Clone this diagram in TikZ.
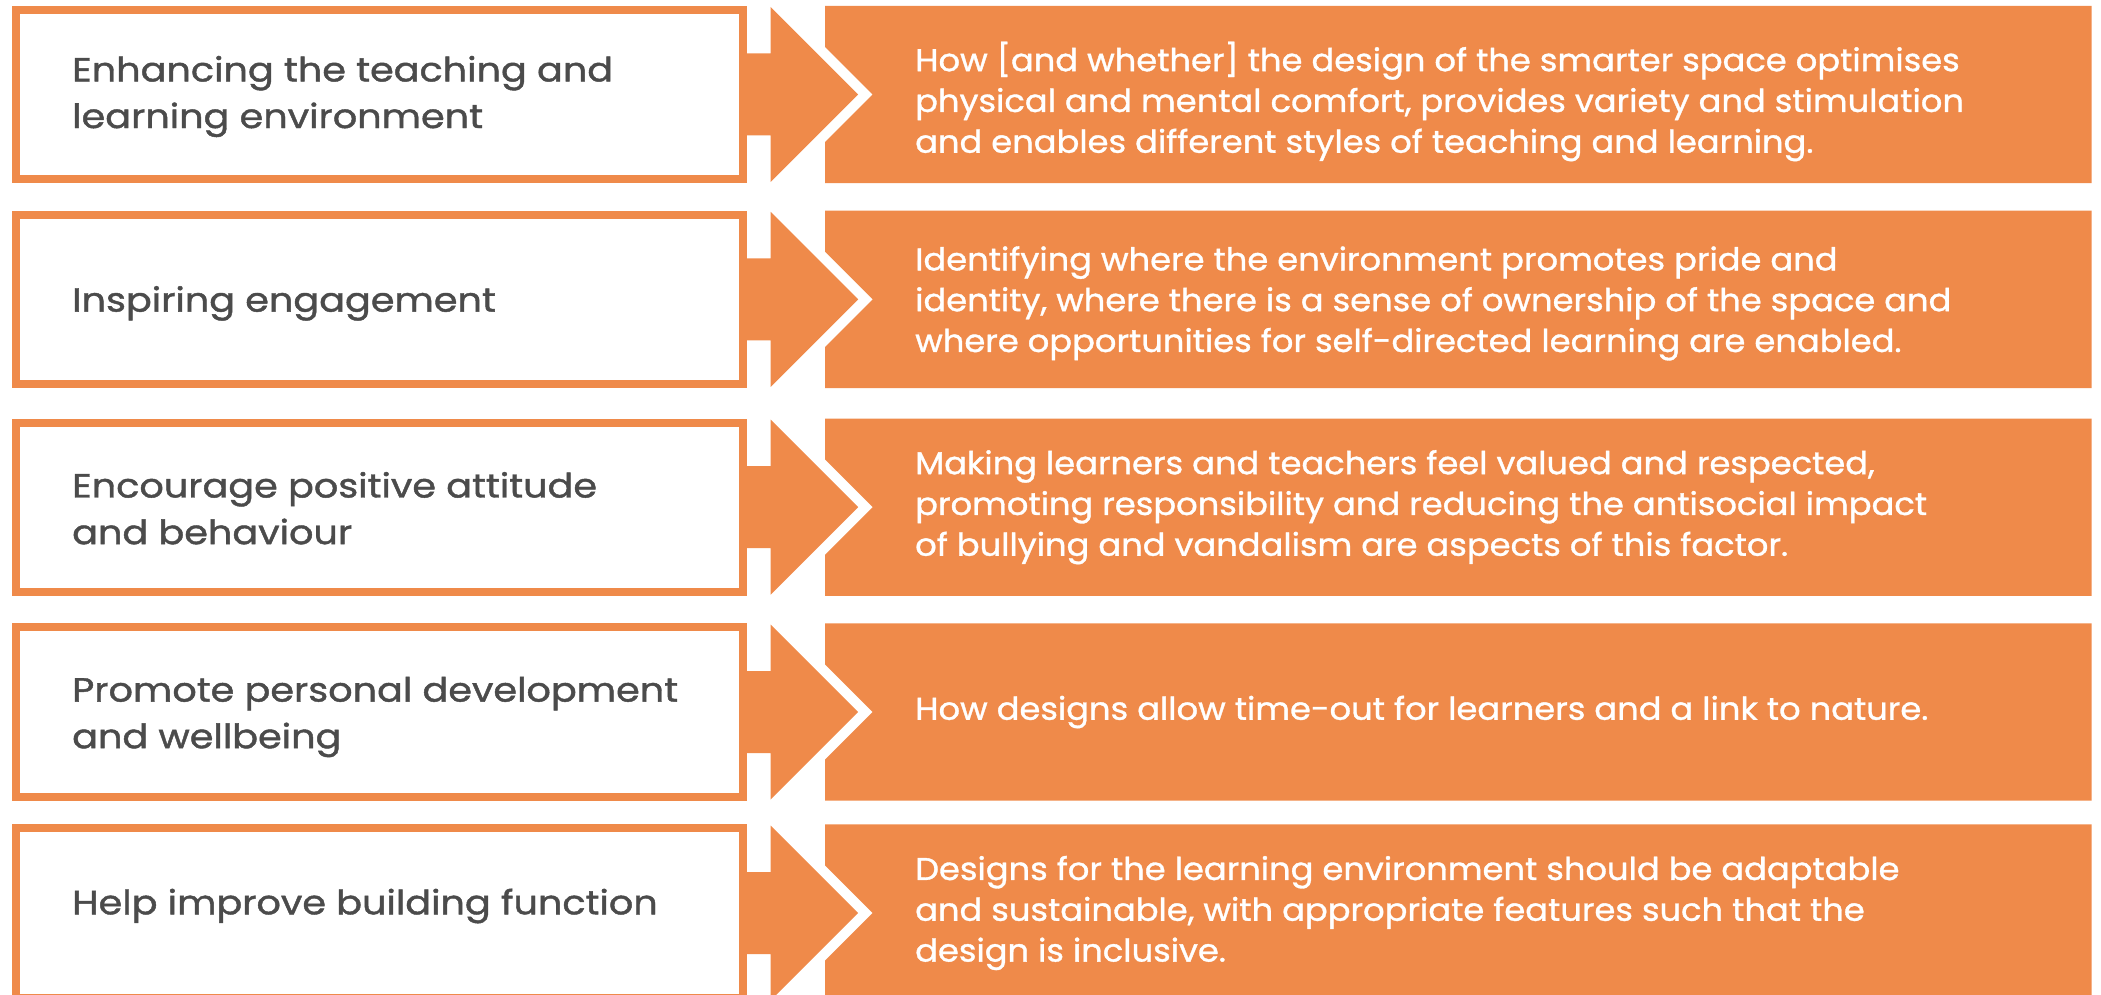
\documentclass[tikz,border=0pt]{standalone}
\usepackage{fontspec}
\setmainfont{Poppins}
\newfontfamily\leftfont[FakeBold=1.3, FakeStretch=1.14]{Poppins}
\newfontfamily\rightfont[FakeBold=1.1, FakeStretch=1.07]{Poppins}
\definecolor{orng}{HTML}{EF8A4A}
\definecolor{txtgray}{HTML}{4B4B4B}
\tikzset{
  leftbox/.style={draw=orng, line width=8pt, fill=white, minimum width=726.4pt, minimum height=169.4pt, inner sep=0pt},
  lefttext/.style={anchor=west, align=left, text=txtgray, font=\leftfont\fontsize{33.5}{46.6}\selectfont, inner sep=0pt},
  righttext/.style={anchor=west, align=left, text=white, font=\rightfont\fontsize{31.5}{40.8}\selectfont, inner sep=0pt},
  arrowfill/.style={fill=orng, draw=none},
}
\newcommand\diagrow[6]{%
  \node[leftbox] (L#1) at (379.5,#2) {};
  \node[lefttext] (T#1) at (72,#2+#5) {#3};
  \fill[arrowfill] (746.7,#2-41) -- (770.7,#2-41) -- (770.7,#2-87.5) -- (858.2,#2)
     -- (770.7,#2+87.5) -- (770.7,#2+41) -- (746.7,#2+41) -- cycle;
  \fill[arrowfill] (825,#2-88.7) -- (2091.7,#2-88.7) -- (2091.7,#2+88.7) -- (825,#2+88.7)
     -- (825,#2+47.7) -- (872.7,#2) -- (825,#2-47.7) -- cycle;
  \node[righttext] (R#1) at (915,#2+#6) {#4};
}
\begin{document}
\begin{tikzpicture}[x=1pt,y=-1pt]
\useasboundingbox (0,0) rectangle (2101,995);
\clip (0,0) rectangle (2101,995);
\diagrow{1}{94.5}{Enhancing the teaching and\\learning environment}{How [and whether] the design of the smarter space optimises\\physical and mental comfort, provides variety and stimulation\\and enables different styles of teaching and learning.}{2}{7}
\diagrow{2}{299.4}{Inspiring engagement}{Identifying where the environment promotes pride and\\identity, where there is a sense of ownership of the space and\\where opportunities for self-directed learning are enabled.}{4}{4}
\diagrow{3}{507.2}{Encourage positive attitude\\and behaviour}{Making learners and teachers feel valued and respected,\\promoting responsibility and reducing the antisocial impact\\of bullying and vandalism are aspects of this factor.}{1}{0}
\diagrow{4}{712}{Promote personal development\\and wellbeing}{How designs allow time-out for learners and a link to nature.}{5}{0}
\diagrow{5}{913}{Help improve building function}{Designs for the learning environment should be adaptable\\and sustainable, with appropriate features such that the\\design is inclusive.}{-7}{0}
\end{tikzpicture}
\end{document}
